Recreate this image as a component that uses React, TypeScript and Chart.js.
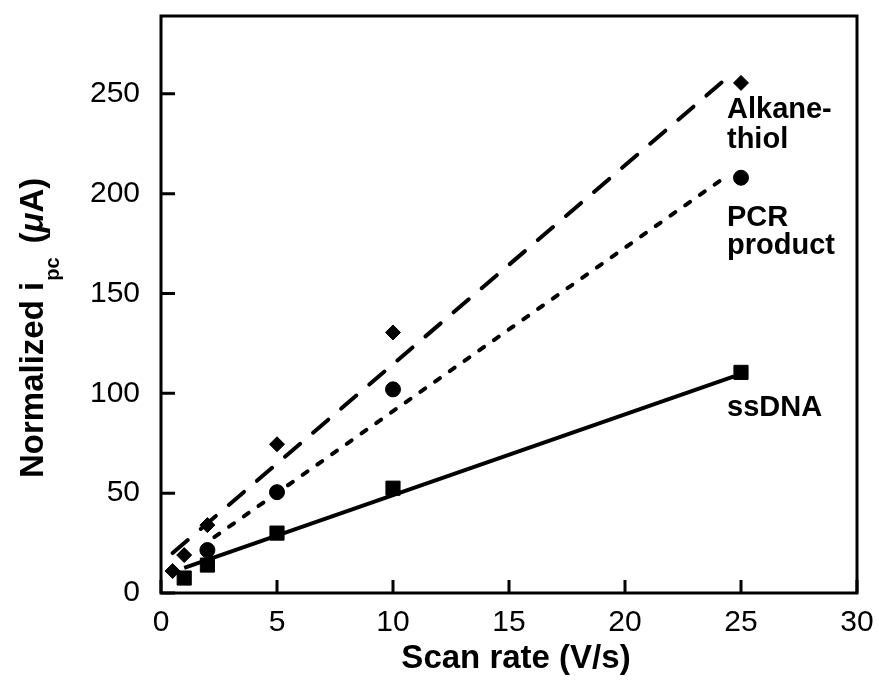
import { useEffect, useRef } from "react";
import { Chart, registerables } from "chart.js";

Chart.register(...registerables);

// ---- data ----
const ssDNAX = [1, 2, 5, 10, 25];
const ssDNAY = [7.5, 14, 30, 52.5, 110.5];
const pcrX = [2, 5, 10, 25];
const pcrY = [21.5, 50.5, 102, 208];
const alkX = [0.5, 1, 2, 5, 10, 25];
const alkY = [11, 19, 34, 74.5, 130.5, 255.5];

// fitted lines (end points)
const alkFitX = [0.5, 24.7];
const alkFitY = [20, 261];
const pcrFitX = [2.3, 24.4];
const pcrFitY = [28, 209];
const ssFitX = [1, 24.7];
const ssFitY = [12.6, 108.5];

const xTicks = [0, 5, 10, 15, 20, 25, 30];
const yTicks = [0, 50, 100, 150, 200, 250];
const xTitle = "Scan rate (V/s)";
const yTitleMain = "Normalized i";
const yTitleSub = "pc";
const seriesLabels = [["Alkane-", "thiol"], ["PCR", "product"], ["ssDNA"]];

const zip = (xs: number[], ys: number[]) => xs.map((x, i) => ({ x, y: ys[i] }));

const FONT = '"Liberation Sans", Arial, Helvetica, sans-serif';

const framePlugin = {
  id: "frame",
  afterDraw(chart: any) {
    const { ctx, chartArea: a, scales } = chart;
    ctx.save();
    ctx.strokeStyle = "#000";
    ctx.lineWidth = 3;
    ctx.lineCap = "butt";
    ctx.strokeRect(a.left, a.top, a.right - a.left, a.bottom - a.top);
    ctx.beginPath();
    scales.x.ticks.forEach((t: any) => {
      const px = scales.x.getPixelForValue(t.value);
      ctx.moveTo(px, a.bottom);
      ctx.lineTo(px, a.bottom - 13);
    });
    scales.y.ticks.forEach((t: any) => {
      const py = scales.y.getPixelForValue(t.value);
      ctx.moveTo(a.left, py);
      ctx.lineTo(a.left + 14, py);
    });
    ctx.stroke();

    // series labels
    ctx.fillStyle = "#000";
    ctx.font = `bold 29px ${FONT}`;
    ctx.textAlign = "left";
    ctx.textBaseline = "alphabetic";
    const lx = scales.x.getPixelForValue(25) - 14;
    const baselines = [[118, 148], [226, 254], [416]];
    seriesLabels.forEach((lines, i) => {
      lines.forEach((txt, j) => ctx.fillText(txt, lx, baselines[i][j]));
    });

    // x title
    ctx.font = `bold 33px ${FONT}`;
    ctx.textAlign = "center";
    ctx.fillText(xTitle, 516, 668);

    // y title with subscript
    ctx.translate(43, 478);
    ctx.rotate(-Math.PI / 2);
    ctx.textAlign = "left";
    ctx.font = `bold 33px ${FONT}`;
    let xpos = 0;
    ctx.fillText(yTitleMain, xpos, 0);
    xpos += ctx.measureText(yTitleMain).width + 1;
    ctx.font = `bold 20px ${FONT}`;
    ctx.fillText(yTitleSub, xpos, 16);
    xpos += ctx.measureText(yTitleSub).width + 14;
    ctx.font = `bold 33px ${FONT}`;
    ctx.fillText("(", xpos, 0);
    xpos += ctx.measureText("(").width;
    ctx.font = `italic bold 33px ${FONT}`;
    ctx.fillText("\u03bc", xpos, 0);
    xpos += ctx.measureText("\u03bc").width;
    ctx.font = `bold 33px ${FONT}`;
    ctx.fillText("A)", xpos, 0);
    ctx.restore();
  },
};

export default function App() {
  const ref = useRef<HTMLCanvasElement | null>(null);
  useEffect(() => {
    document.body.style.margin = "0";
    const canvas = ref.current!;
    const chart = new Chart(canvas, {
      type: "scatter",
      data: {
        datasets: [
          {
            label: "Alkanethiol fit",
            data: zip(alkFitX, alkFitY),
            showLine: true,
            borderColor: "#000",
            borderWidth: 4,
            borderDash: [20, 17],
            borderCapStyle: "round",
            pointRadius: 0,
          },
          {
            label: "PCR fit",
            data: zip(pcrFitX, pcrFitY),
            showLine: true,
            borderColor: "#000",
            borderWidth: 4,
            borderDash: [6, 12],
            borderCapStyle: "round",
            pointRadius: 0,
          },
          {
            label: "ssDNA fit",
            data: zip(ssFitX, ssFitY),
            showLine: true,
            borderColor: "#000",
            borderWidth: 4,
            pointRadius: 0,
          },
          {
            label: "Alkanethiol",
            data: zip(alkX, alkY),
            pointStyle: "rectRot",
            pointRadius: 7.5,
            backgroundColor: "#000",
            borderColor: "#000",
            borderWidth: 1,
          },
          {
            label: "PCR product",
            data: zip(pcrX, pcrY),
            pointStyle: "circle",
            pointRadius: 7.5,
            backgroundColor: "#000",
            borderColor: "#000",
            borderWidth: 1,
          },
          {
            label: "ssDNA",
            data: zip(ssDNAX, ssDNAY),
            pointStyle: "rect",
            pointRadius: 10,
            backgroundColor: "#000",
            borderColor: "#000",
            borderWidth: 1,
          },
        ],
      },
      options: {
        responsive: false,
        animation: false,
        events: [],
        layout: { padding: { left: 0, top: 16, right: 22, bottom: 0 } },
        plugins: { legend: { display: false }, tooltip: { enabled: false } },
        scales: {
          x: {
            type: "linear",
            min: 0,
            max: 30,
            afterFit: (s: any) => {
              s.height = 98;
              s.paddingLeft = 0;
              s.paddingRight = 0;
              s.paddingTop = 0;
              s.paddingBottom = 0;
            },
            afterBuildTicks: (s: any) => {
              s.ticks = xTicks.map((v) => ({ value: v }));
            },
            grid: { display: false, drawTicks: false },
            border: { display: false },
            ticks: {
              color: "#000",
              font: { family: FONT, size: 30 },
              padding: 12,
              maxRotation: 0,
            },
          },
          y: {
            type: "linear",
            min: 0,
            max: 289,
            afterFit: (s: any) => {
              s.width = 161;
              s.paddingLeft = 0;
              s.paddingRight = 0;
              s.paddingTop = 0;
              s.paddingBottom = 0;
            },
            afterBuildTicks: (s: any) => {
              s.ticks = yTicks.map((v) => ({ value: v }));
            },
            grid: { display: false, drawTicks: false },
            border: { display: false },
            ticks: {
              color: "#000",
              font: { family: FONT, size: 30 },
              padding: 21,
            },
          },
        },
      },
      plugins: [framePlugin],
    });
    return () => chart.destroy();
  }, []);
  return (
    <div style={{ width: 879, height: 691, background: "#fff" }}>
      <canvas ref={ref} width={879} height={691} />
    </div>
  );
}
